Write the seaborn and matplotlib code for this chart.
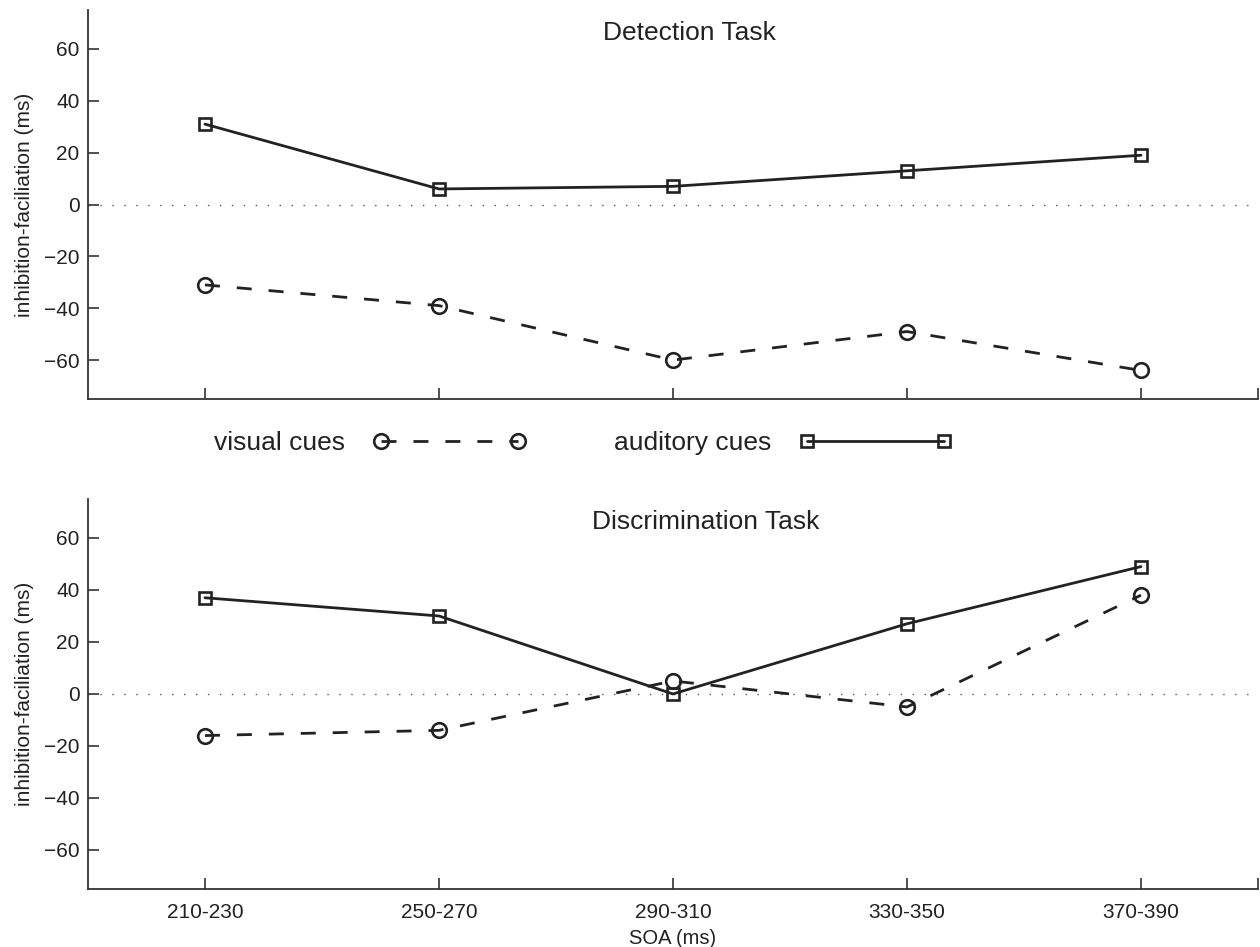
import matplotlib
matplotlib.use("Agg")
import matplotlib.pyplot as plt
import seaborn as sns
import numpy as np

# SOA bins on the x axis
soa_bins = ["210-230", "250-270", "290-310", "330-350", "370-390"]

# inhibition-facilitation (ms), detection task
detect_visual = [-31, -39, -60, -49, -64]
detect_auditory = [31, 6, 7, 13, 19]

# inhibition-facilitation (ms), discrimination task
discrim_visual = [-16, -14, 5, -5, 38]
discrim_auditory = [37, 30, 0, 27, 49]

y_ticks = [-60, -40, -20, 0, 20, 40, 60]

sns.set_style("ticks")
plt.rcParams["font.family"] = ["Liberation Sans", "DejaVu Sans"]

INK = "#222222"
SPINE = "#333333"

fig = plt.figure(figsize=(12.6, 9.47), dpi=100)
ax_top = fig.add_axes([0.0698, 0.5787, 0.9286, 0.4107])
ax_bot = fig.add_axes([0.0698, 0.0613, 0.9286, 0.4118])

xpos = np.arange(1, len(soa_bins) + 1)


def draw_panel(ax, visual, auditory, title, title_x, show_xlabels):
    sns.lineplot(x=xpos, y=visual, ax=ax, color=INK, linewidth=2.0,
                 marker="o", markersize=10.5, markerfacecolor="none",
                 markeredgecolor=INK, markeredgewidth=1.9, label="visual cues")
    ax.lines[-1].set_dashes((5.4, 6.1))
    sns.lineplot(x=xpos, y=auditory, ax=ax, color=INK, linewidth=2.0,
                 marker="s", markersize=8.5, markerfacecolor="none",
                 markeredgecolor=INK, markeredgewidth=1.9, label="auditory cues")
    ax.axhline(0, color="#555555", linewidth=1.0, dashes=(1, 7.6), zorder=0)

    ax.set_xlim(0.5, 5.5)
    ax.set_ylim(-75, 75)
    ax.set_yticks(y_ticks)
    ax.set_yticklabels([str(v).replace("-", "\u2212") for v in y_ticks])
    ax.set_xticks(list(xpos) + [5.5])
    if show_xlabels:
        ax.set_xticklabels(soa_bins + [""])
    else:
        ax.set_xticklabels([""] * 6)
    ax.tick_params(direction="in", length=8, width=1.2, color=SPINE,
                   labelsize=15, labelcolor=INK, bottom=True, left=True)
    ax.tick_params(axis="x", pad=10)
    ax.tick_params(axis="y", pad=6)

    for side in ("top", "right"):
        ax.spines[side].set_visible(False)
    for side in ("left", "bottom"):
        ax.spines[side].set_color(SPINE)
        ax.spines[side].set_linewidth(1.3)

    ax.set_ylabel("inhibition-faciliation (ms)", fontsize=15, color=INK,
                  labelpad=7)
    ax.text(title_x, 66, title, ha="center", va="center", fontsize=19,
            color=INK)
    ax.get_legend().remove()


draw_panel(ax_top, detect_visual, detect_auditory, "Detection Task", 3.07, False)
draw_panel(ax_bot, discrim_visual, discrim_auditory, "Discrimination Task", 3.14, True)
ax_bot.set_xlabel("SOA (ms)", fontsize=14.5, color=INK, labelpad=5)

handles, labels = ax_top.get_legend_handles_labels()
fig.legend(handles, labels, loc="center", bbox_to_anchor=(0.4627, 0.532),
           ncol=2, frameon=False, markerfirst=False, numpoints=2,
           handlelength=5.8, handletextpad=1.05, columnspacing=3.33,
           fontsize=19, labelcolor=INK)

fig.savefig("out.png", dpi=100, facecolor="white")
